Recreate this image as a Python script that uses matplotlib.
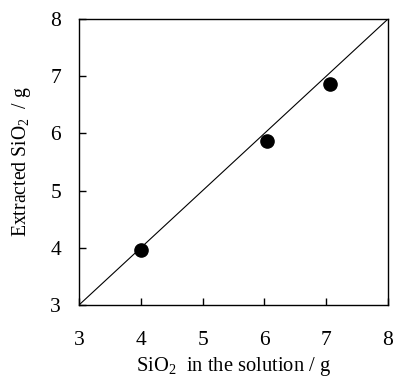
import matplotlib.pyplot as plt

plt.rcParams['font.family'] = 'Liberation Serif'
plt.rcParams['mathtext.fontset'] = 'custom'
plt.rcParams['mathtext.rm'] = 'Liberation Serif'
plt.rcParams['mathtext.it'] = 'Liberation Serif:italic'

# measured data
sio2_solution = [4.0, 6.04, 7.06]
sio2_extracted = [3.96, 5.87, 6.86]
ideal = [3, 8]
ticks = [3, 4, 5, 6, 7, 8]

fig = plt.figure(figsize=(3.95, 3.79), dpi=100)
ax = fig.add_axes([79 / 395, 1 - 305 / 379, 309 / 395, 286 / 379])

ax.plot(ideal, ideal, color='black', lw=0.8)
ax.plot(sio2_solution, sio2_extracted, 'o', color='black', ms=9.5)

ax.set_xlim(3, 8)
ax.set_ylim(3, 8)
ax.set_xticks(ticks)
ax.set_yticks(ticks)
ax.tick_params(direction='in', length=5, width=1, labelsize=15.5)
ax.tick_params(axis='y', pad=13)
ax.tick_params(axis='x', pad=19)
for s in ax.spines.values():
    s.set_linewidth(1)

ax.set_xlabel('SiO$_2$  in the solution / g', fontsize=14.8, labelpad=3)
ax.set_ylabel('Extracted SiO$_2$  / g', fontsize=14.2, labelpad=12)

fig.savefig('out.png', dpi=100)
